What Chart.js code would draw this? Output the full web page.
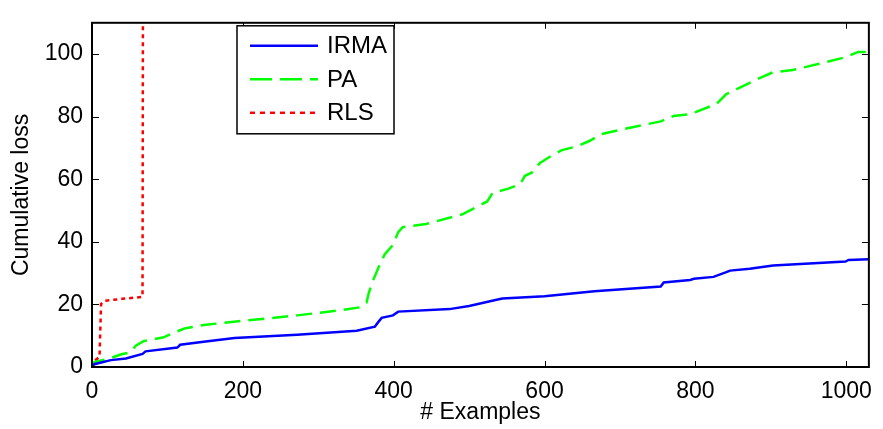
<!DOCTYPE html>
<html lang="en">
<head>
<meta charset="UTF-8">
<title>Cumulative loss</title>
<script src="https://cdn.jsdelivr.net/npm/chart.js"></script>
<style>
    body { margin: 0; background: #fff; }
    canvas { display: block; }
</style>
</head>
<body>
<canvas id="lossChart" width="883" height="429"></canvas>
<script>
// values
const xTicks = [0, 200, 400, 600, 800, 1000];
const yTicks = [0, 20, 40, 60, 80, 100];

const irmaX = [0, 3, 25, 45, 67, 71, 113, 117, 148, 189, 272, 351, 375, 380, 384, 399, 406, 474, 500, 535, 544, 600, 666, 754, 758, 793, 798, 824, 841, 846, 872, 903, 999, 1003, 1030];
const irmaY = [0, 0.9, 2.2, 2.7, 4.2, 5.0, 6.2, 7.1, 8.1, 9.3, 10.3, 11.6, 12.9, 14.5, 15.7, 16.5, 17.7, 18.5, 19.5, 21.4, 21.9, 22.6, 24.2, 25.7, 27.0, 27.8, 28.2, 28.8, 30.3, 30.8, 31.4, 32.4, 33.7, 34.2, 34.4];

const paX = [0, 3, 23, 38, 51, 58, 69, 95, 113, 124, 148, 185, 233, 272, 325, 356, 364, 367, 371, 380, 388, 399, 406, 412, 443, 491, 524, 531, 552, 568, 574, 583, 594, 607, 623, 644, 660, 675, 706, 754, 771, 793, 828, 841, 872, 885, 903, 929, 964, 999, 1016, 1030];
const paY = [0, 1.6, 2.7, 4.0, 4.7, 6.8, 8.3, 9.5, 11.4, 12.4, 13.4, 14.4, 15.5, 16.5, 18.0, 19.1, 20.6, 23.7, 26.7, 31.9, 36.0, 39.0, 43.1, 44.7, 45.7, 48.8, 52.9, 55.6, 57.0, 58.5, 61.1, 62.1, 65.2, 67.2, 69.3, 70.6, 72.3, 74.4, 76.1, 78.5, 80.2, 80.8, 84.1, 87.2, 90.8, 92.3, 94.2, 94.9, 96.9, 99.0, 100.7, 100.7];

const rlsX = [0, 1, 10, 12, 16, 40, 67, 68];
const rlsY = [0, 1.6, 3.2, 20.1, 21.1, 21.8, 22.4, 200];

const pts = (xs, ys) => xs.map((x, i) => ({ x: x, y: ys[i] }));

// matlab style box, inward ticks and legend
const matlabBox = {
    id: 'matlabBox',
    afterDatasetsDraw(chart) {
        const { ctx, chartArea: a, scales } = chart;
        ctx.save();
        ctx.strokeStyle = '#000';
        ctx.lineWidth = 1;
        ctx.beginPath();
        scales.x.ticks.forEach(t => {
            const px = Math.round(scales.x.getPixelForValue(t.value)) + 0.5;
            ctx.moveTo(px, a.bottom); ctx.lineTo(px, a.bottom - 6);
            ctx.moveTo(px, a.top); ctx.lineTo(px, a.top + 6);
        });
        scales.y.ticks.forEach(t => {
            const py = Math.round(scales.y.getPixelForValue(t.value)) + 0.5;
            ctx.moveTo(a.left, py); ctx.lineTo(a.left + 7, py);
            ctx.moveTo(a.right, py); ctx.lineTo(a.right - 7, py);
        });
        ctx.stroke();
        ctx.lineWidth = 2;
        ctx.strokeRect(a.left, a.top, a.width, a.height);

        // legend box
        const lx = a.left + 145, ly = a.top + 3, lw = 157, lh = 108;
        ctx.fillStyle = '#fff';
        ctx.fillRect(lx, ly, lw, lh);
        ctx.lineWidth = 1.5;
        ctx.strokeRect(lx, ly, lw, lh);
        ctx.font = '24px "Liberation Sans", Arial, sans-serif';
        ctx.textBaseline = 'middle';
        ctx.textAlign = 'left';
        chart.data.datasets.forEach((ds, i) => {
            const y = ly + 20 + i * 33.5;
            ctx.strokeStyle = ds.borderColor;
            ctx.lineWidth = ds.borderWidth;
            ctx.setLineDash(ds.legendDash || []);
            ctx.beginPath();
            ctx.moveTo(lx + 13, y);
            ctx.lineTo(lx + 81, y);
            ctx.stroke();
            ctx.setLineDash([]);
            ctx.fillStyle = '#000';
            ctx.fillText(ds.label, lx + 90, y + 1);
        });
        ctx.restore();
    }
};

new Chart(document.getElementById('lossChart'), {
    type: 'line',
    data: {
        datasets: [
            { label: 'IRMA', data: pts(irmaX, irmaY), borderColor: '#0000ff', borderWidth: 2.5, pointRadius: 0, tension: 0 },
            { label: 'PA', data: pts(paX, paY), borderColor: '#00ff00', borderWidth: 2.5, borderDash: [16, 8], legendDash: [22, 8], pointRadius: 0, tension: 0 },
            { label: 'RLS', data: pts(rlsX, rlsY), borderColor: '#ff0000', borderWidth: 2.5, borderDash: [4, 4], legendDash: [5, 5], pointRadius: 0, tension: 0 }
        ]
    },
    options: {
        responsive: false,
        animation: false,
        layout: { padding: { top: 9, right: 6, left: 0, bottom: 0 } },
        plugins: {
            legend: { display: false },
            tooltip: { enabled: false }
        },
        scales: {
            x: {
                type: 'linear',
                min: 0,
                max: 1030,
                afterBuildTicks: s => { s.ticks = xTicks.map(v => ({ value: v })); },
                afterFit: s => { s.height = 62; },
                grid: { display: false, drawTicks: false },
                border: { display: false },
                ticks: {
                    color: '#000',
                    padding: 11,
                    maxRotation: 0,
                    callback: v => String(v),
                    font: { family: '"Liberation Sans", Arial, sans-serif', size: 23 }
                },
                title: {
                    display: true,
                    text: '# Examples',
                    color: '#000',
                    padding: { top: 0, bottom: 3 },
                    font: { family: '"Liberation Sans", Arial, sans-serif', size: 23 }
                }
            },
            y: {
                min: 0,
                max: 110,
                afterBuildTicks: s => { s.ticks = yTicks.map(v => ({ value: v })); },
                afterFit: s => { s.width = 92; },
                grid: { display: false, drawTicks: false },
                border: { display: false },
                ticks: {
                    color: '#000',
                    padding: 9,
                    callback: v => String(v),
                    font: { family: '"Liberation Sans", Arial, sans-serif', size: 23 }
                },
                title: {
                    display: true,
                    text: 'Cumulative loss',
                    color: '#000',
                    padding: { top: 8, bottom: 0 },
                    font: { family: '"Liberation Sans", Arial, sans-serif', size: 23 }
                }
            }
        }
    },
    plugins: [matlabBox]
});
</script>
</body>
</html>
